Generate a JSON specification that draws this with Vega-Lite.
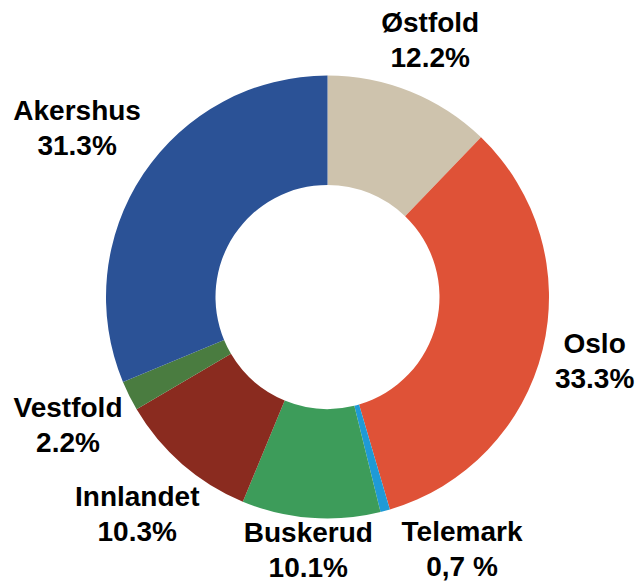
{
  "$schema": "https://vega.github.io/schema/vega-lite/v6.json",
  "autosize": "none",
  "width": 617,
  "height": 570,
  "padding": {"left": 19, "top": 12, "right": 0, "bottom": 0},
  "background": "white",
  "config": {"view": {"stroke": null}},
  "data": {
    "values": [
      {"region": "Østfold", "value": 12.2, "order": 1, "label": "Østfold\n12.2%"},
      {"region": "Oslo", "value": 33.3, "order": 2, "label": "Oslo\n33.3%"},
      {"region": "Telemark", "value": 0.7, "order": 3, "label": "Telemark\n0,7 %"},
      {"region": "Buskerud", "value": 10.1, "order": 4, "label": "Buskerud\n10.1%"},
      {"region": "Innlandet", "value": 10.3, "order": 5, "label": "Innlandet\n10.3%"},
      {"region": "Vestfold", "value": 2.2, "order": 6, "label": "Vestfold\n2.2%"},
      {"region": "Akershus", "value": 31.3, "order": 7, "label": "Akershus\n31.3%"}
    ]
  },
  "transform": [
    {"stack": "value", "groupby": [], "sort": [{"field": "order", "order": "ascending"}], "as": ["v0", "v1"]},
    {"calculate": "(datum.v0 + datum.v1) / 2", "as": "mid"}
  ],
  "layer": [
    {
      "mark": {"type": "arc", "innerRadius": 112, "outerRadius": 221.5},
      "encoding": {
        "theta": {"field": "v0", "type": "quantitative", "stack": null, "scale": {"domain": [0, 100.1]}},
        "theta2": {"field": "v1"},
        "color": {
          "field": "region",
          "type": "nominal",
          "scale": {
            "domain": ["Østfold", "Oslo", "Telemark", "Buskerud", "Innlandet", "Vestfold", "Akershus"],
            "range": ["#CEC3AD", "#DF5237", "#1F9AD6", "#3D9C5A", "#8A2B1F", "#4A7C40", "#2B5296"]
          },
          "legend": null
        }
      }
    },
    {
      "transform": [{"filter": "datum.region == 'Østfold' || datum.region == 'Oslo'"}],
      "mark": {"type": "text", "radius": 275, "dy": -17.5, "font": "Liberation Sans", "fontWeight": "bold", "fontSize": 28, "lineHeight": 35, "lineBreak": "\n", "align": "center", "baseline": "middle", "color": "#000000"},
      "encoding": {
        "theta": {"field": "mid", "type": "quantitative", "stack": null},
        "text": {"field": "label"}
      }
    },
    {
      "transform": [{"filter": "datum.region == 'Buskerud'"}],
      "mark": {"type": "text", "radius": 255, "dy": -17.5, "font": "Liberation Sans", "fontWeight": "bold", "fontSize": 28, "lineHeight": 35, "lineBreak": "\n", "align": "center", "baseline": "middle", "color": "#000000"},
      "encoding": {
        "theta": {"field": "mid", "type": "quantitative", "stack": null},
        "text": {"field": "label"}
      }
    },
    {
      "transform": [{"filter": "datum.region == 'Innlandet' || datum.region == 'Vestfold'"}],
      "mark": {"type": "text", "radius": 290, "dy": -17.5, "font": "Liberation Sans", "fontWeight": "bold", "fontSize": 28, "lineHeight": 35, "lineBreak": "\n", "align": "center", "baseline": "middle", "color": "#000000"},
      "encoding": {
        "theta": {"field": "mid", "type": "quantitative", "stack": null},
        "text": {"field": "label"}
      }
    },
    {
      "transform": [{"filter": "datum.region == 'Akershus'"}],
      "mark": {"type": "text", "radius": 301, "dy": -17.5, "font": "Liberation Sans", "fontWeight": "bold", "fontSize": 28, "lineHeight": 35, "lineBreak": "\n", "align": "center", "baseline": "middle", "color": "#000000"},
      "encoding": {
        "theta": {"field": "mid", "type": "quantitative", "stack": null},
        "text": {"field": "label"}
      }
    },
    {
      "transform": [{"filter": "datum.region == 'Telemark'"}],
      "mark": {"type": "text", "radius": 286, "dx": 60, "dy": -40.5, "font": "Liberation Sans", "fontWeight": "bold", "fontSize": 28, "lineHeight": 35, "lineBreak": "\n", "align": "center", "baseline": "middle", "color": "#000000"},
      "encoding": {
        "theta": {"field": "mid", "type": "quantitative", "stack": null},
        "text": {"field": "label"}
      }
    }
  ]
}
